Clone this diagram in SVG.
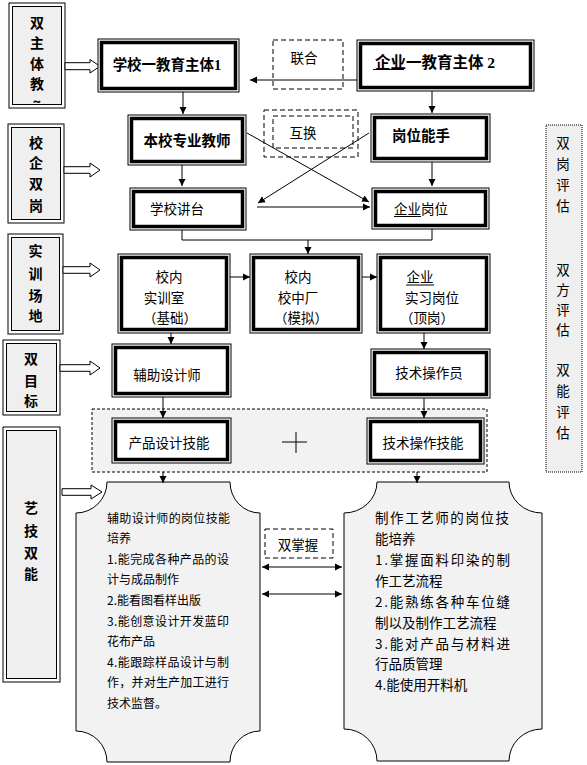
<svg xmlns="http://www.w3.org/2000/svg" width="587" height="765" viewBox="0 0 587 765">
<style>
.bo{fill:#fff;stroke:#000;stroke-width:1}
.bi{fill:none;stroke:#000;stroke-width:3.5}
.lo{fill:#fff;stroke:#000;stroke-width:1}
.li{fill:#efefef;stroke:#000;stroke-width:1}
.t{font-family:"Noto Sans CJK SC",sans-serif;font-size:13.5px;text-anchor:middle;fill:#000}
.tb{font-family:"Liberation Serif","Noto Sans CJK SC",serif;font-weight:bold;text-anchor:middle;fill:#000}
.tl{font-family:"Noto Sans CJK SC",sans-serif;font-weight:bold;font-size:14px;text-anchor:middle;fill:#000}
.tp{font-family:"Noto Sans CJK SC",sans-serif;fill:#000}
.dash{fill:none;stroke:#000;stroke-width:1;stroke-dasharray:5 3}
.c{fill:none;stroke:#000;stroke-width:1}
.ha{fill:#fff;stroke:#000;stroke-width:1}
.ul{stroke:#000;stroke-width:1}
</style>
<defs>
<marker id="ah" markerWidth="8" markerHeight="8" refX="7" refY="4" orient="auto-start-reverse" markerUnits="userSpaceOnUse"><path d="M0,0.5 L7,4 L0,7.5 Z" fill="#000"/></marker>
</defs>

<!-- left label column -->
<g id="lbl1"><rect class="lo" x="9" y="3" width="56" height="105"/><rect class="li" x="12.5" y="6.5" width="49" height="98"/>
<text class="tl" x="37" y="27.5">双</text><text class="tl" x="37" y="47.5">主</text><text class="tl" x="37" y="68.5">体</text><text class="tl" x="37" y="88.5">教</text><text class="tl" x="37" y="107" font-size="11">~</text></g>
<g id="lbl2"><rect class="lo" x="8" y="124" width="56" height="99"/><rect class="li" x="11.5" y="127.5" width="49" height="92"/>
<text class="tl" x="36" y="147.5">校</text><text class="tl" x="36" y="167.5">企</text><text class="tl" x="36" y="188.5">双</text><text class="tl" x="36" y="210.5">岗</text></g>
<g id="lbl3"><rect class="lo" x="8" y="234" width="55" height="100"/><rect class="li" x="11.5" y="237.5" width="48" height="93"/>
<text class="tl" x="35.5" y="255.5">实</text><text class="tl" x="35.5" y="278.5">训</text><text class="tl" x="35.5" y="300.5">场</text><text class="tl" x="35.5" y="320.5">地</text></g>
<g id="lbl4"><rect class="lo" x="3" y="340" width="57" height="75"/><rect class="li" x="6.5" y="343.5" width="50" height="68"/>
<text class="tl" x="31" y="363.5">双</text><text class="tl" x="31" y="385.5">目</text><text class="tl" x="31" y="405.5">标</text></g>
<g id="lbl5"><rect class="lo" x="3" y="427" width="57" height="255"/><rect class="li" x="6.5" y="430.5" width="50" height="248"/>
<text class="tl" x="31" y="512.5">艺</text><text class="tl" x="31" y="535.5">技</text><text class="tl" x="31" y="557.5">双</text><text class="tl" x="31" y="578.5">能</text></g>

<!-- hollow arrows -->
<g id="hollow-arrows">
<polygon class="ha" points="65,62.7 90,62.7 90,59.5 100,66.3 90,73 90,69.7 65,69.7"/>
<polygon class="ha" points="64,166.7 90,166.7 90,163 100,170 90,177 90,173.3 64,173.3"/>
<polygon class="ha" points="63,266.7 90,266.7 90,263 100,270 90,277 90,273.3 63,273.3"/>
<polygon class="ha" points="60,364.7 90,364.7 90,361 100,368 90,375 90,371.3 60,371.3"/>
<polygon class="ha" points="62,488.7 91,488.7 91,485 102,492 91,499 91,495.3 62,495.3"/>
</g>

<!-- gray dashed region -->
<g id="skills-region"><rect x="92" y="409" width="395" height="63" fill="#f2f2f2" stroke="#000" stroke-width="1" stroke-dasharray="3 2"/>
<line class="c" x1="282" y1="442" x2="307" y2="442"/><line class="c" x1="296" y1="432" x2="296" y2="453"/></g>

<!-- right evaluation box -->
<g id="eval"><rect x="546" y="125" width="36" height="347" fill="#efefef" stroke="#000" stroke-width="1" stroke-dasharray="1 1"/>
<text class="t" font-size="14" x="563" y="147.5">双</text><text class="t" x="563" y="168.5" font-size="14">岗</text><text class="t" x="563" y="189.5" font-size="14">评</text><text class="t" x="563" y="210.5" font-size="14">估</text>
<text class="t" x="563" y="274.5" font-size="14">双</text><text class="t" x="563" y="294.5" font-size="14">方</text><text class="t" x="563" y="314.5" font-size="14">评</text><text class="t" x="563" y="334.5" font-size="14">估</text>
<text class="t" x="563" y="375" font-size="14">双</text><text class="t" x="563" y="396" font-size="14">能</text><text class="t" x="563" y="417" font-size="14">评</text><text class="t" x="563" y="438" font-size="14">估</text></g>

<!-- dashed labels -->
<g id="lianhe"><rect class="dash" x="273" y="40" width="70" height="49"/><text class="t" x="304" y="63">联合</text></g>
<g id="huhuan"><rect class="dash" x="264" y="110" width="94" height="47"/><rect class="dash" x="273" y="116" width="80" height="32"/><text class="t" x="303" y="138">互换</text></g>
<g id="shuangzhangwo"><rect class="dash" x="265" y="529" width="68" height="29"/><text class="t" x="298" y="549.5" font-size="14">双掌握</text></g>

<!-- main nodes -->
<g id="school1"><rect class="bo" x="98" y="39" width="141" height="53"/><rect class="bi" x="101.5" y="42.5" width="134" height="46"/>
<text class="tb" x="167" y="69.5" font-size="14.5">学校一教育主体1</text></g>
<g id="ent2"><rect class="bo" x="357" y="40" width="177" height="51"/><rect class="bi" x="360.5" y="43.5" width="170" height="44"/>
<text class="tb" x="435" y="68" font-size="15.5">企业一教育主体 2</text><line class="ul" x1="373" y1="69.5" x2="404" y2="69.5"/></g>
<g id="teacher"><rect class="bo" x="128" y="115" width="118" height="50"/><rect class="bi" x="131.5" y="118.5" width="111" height="43"/>
<text class="tb" x="187" y="145.5" font-size="14.5">本校专业教师</text></g>
<g id="expert"><rect class="bo" x="371" y="114" width="119" height="48"/><rect class="bi" x="374.5" y="117.5" width="112" height="41"/>
<text class="tb" x="421" y="140.5" font-size="14.5">岗位能手</text></g>
<g id="podium"><rect class="bo" x="130" y="188" width="116" height="42"/><rect class="bi" x="133.5" y="191.5" width="109" height="35"/>
<text class="t" x="177" y="214">学校讲台</text></g>
<g id="post"><rect class="bo" x="372" y="188" width="117" height="41"/><rect class="bi" x="375.5" y="191.5" width="110" height="34"/>
<text class="t" x="421" y="214">企业岗位</text><line class="ul" x1="394" y1="216.5" x2="421" y2="216.5"/></g>
<g id="lab"><rect class="bo" x="118" y="254" width="112" height="79"/><rect class="bi" x="121.5" y="257.5" width="105" height="72"/>
<text class="t" x="169" y="282">校内</text><text class="t" x="164" y="302.5">实训室</text><text class="t" x="170" y="323">（基础）</text></g>
<g id="factory"><rect class="bo" x="250" y="254" width="112" height="79"/><rect class="bi" x="253.5" y="257.5" width="105" height="72"/>
<text class="t" x="298" y="282">校内</text><text class="t" x="298" y="302.5">校中厂</text><text class="t" x="301" y="323">（模拟）</text></g>
<g id="intern"><rect class="bo" x="377" y="254" width="113" height="79"/><rect class="bi" x="380.5" y="257.5" width="106" height="72"/>
<text class="t" x="420" y="282">企业</text><line class="ul" x1="406" y1="285" x2="434" y2="285"/><text class="t" x="432" y="302.5">实习岗位</text><text class="t" x="427" y="323">（顶岗）</text></g>
<g id="assist"><rect class="bo" x="112" y="344" width="119" height="53"/><rect class="bi" x="115.5" y="347.5" width="112" height="46"/>
<text class="t" x="167" y="380" font-size="14">辅助设计师</text></g>
<g id="operator"><rect class="bo" x="371" y="349" width="119" height="49"/><rect class="bi" x="374.5" y="352.5" width="112" height="42"/>
<text class="t" x="429" y="377.5" font-size="14">技术操作员</text></g>
<g id="design-skill"><rect class="bo" x="112" y="418" width="119" height="45"/><rect class="bi" x="115.5" y="421.5" width="112" height="38"/>
<text class="t" x="169" y="447.5" font-size="14">产品设计技能</text></g>
<g id="op-skill"><rect class="bo" x="367" y="418" width="117" height="46"/><rect class="bi" x="370.5" y="421.5" width="110" height="39"/>
<text class="t" x="423" y="447.5" font-size="14">技术操作技能</text></g>

<!-- training blobs -->
<g id="blob-left"><path d="M107,482 H230 A30,31 0 0 0 260,513 V731 A30,31 0 0 0 230,762 H107 A31,31 0 0 0 76,731 V513 A31,31 0 0 0 107,482 Z" fill="#f2f2f2" stroke="#000" stroke-width="1"/>
<g class="tp" font-size="12">
<text x="107" y="522.6" textLength="123" lengthAdjust="spacing">辅助设计师的岗位技能</text>
<text x="107" y="543.2">培养</text>
<text x="107" y="563.8" textLength="122" lengthAdjust="spacing">1.能完成各种产品的设</text>
<text x="107" y="584.4">计与成品制作</text>
<text x="107" y="605">2.能看图看样出版</text>
<text x="107" y="625.6" textLength="122" lengthAdjust="spacing">3.能创意设计开发蓝印</text>
<text x="107" y="646.2">花布产品</text>
<text x="107" y="666.8" textLength="122" lengthAdjust="spacing">4.能跟踪样品设计与制</text>
<text x="107" y="687.4" textLength="122" lengthAdjust="spacing">作，并对生产加工进行</text>
<text x="107" y="708">技术监督。</text>
</g></g>
<g id="blob-right"><path d="M377,482 H509 A33,31 0 0 0 542,513 V729 A33,32 0 0 0 509,761 H377 A33,32 0 0 0 344,729 V513 A33,31 0 0 0 377,482 Z" fill="#f2f2f2" stroke="#000" stroke-width="1"/>
<g class="tp" font-size="13.5">
<text x="375" y="523.1" textLength="134" lengthAdjust="spacing">制作工艺师的岗位技</text>
<text x="375" y="544">能培养</text>
<text x="375" y="564.9" textLength="135" lengthAdjust="spacing">1.掌握面料印染的制</text>
<text x="375" y="585.8">作工艺流程</text>
<text x="375" y="606.7" textLength="135" lengthAdjust="spacing">2.能熟练各种车位缝</text>
<text x="375" y="627.6">制以及制作工艺流程</text>
<text x="375" y="648.5" textLength="135" lengthAdjust="spacing">3.能对产品与材料进</text>
<text x="375" y="669.4">行品质管理</text>
<text x="375" y="690.3">4.能使用开料机</text>
</g></g>

<!-- connectors -->
<g id="connectors">
<line class="c" x1="357" y1="80" x2="250" y2="80" marker-end="url(#ah)"/>
<line class="c" x1="183" y1="92" x2="183" y2="114" marker-end="url(#ah)"/>
<line class="c" x1="432" y1="91" x2="432" y2="113" marker-end="url(#ah)"/>
<line class="c" x1="182" y1="165" x2="182" y2="186" marker-end="url(#ah)"/>
<line class="c" x1="432" y1="162" x2="432" y2="186" marker-end="url(#ah)"/>
<line class="c" x1="247" y1="133" x2="369" y2="202" marker-end="url(#ah)"/>
<line class="c" x1="369" y1="133" x2="258" y2="203" marker-end="url(#ah)"/>
<line class="c" x1="257" y1="207" x2="370" y2="207" marker-end="url(#ah)"/>
<polyline class="c" points="182,230 182,240 432,240 432,229"/>
<line class="c" x1="308" y1="240" x2="308" y2="254" marker-end="url(#ah)"/>
<line class="c" x1="230" y1="277" x2="250" y2="277" marker-end="url(#ah)"/>
<line class="c" x1="362" y1="277" x2="377" y2="277" marker-end="url(#ah)"/>
<line class="c" x1="171" y1="333" x2="171" y2="344" marker-end="url(#ah)"/>
<line class="c" x1="424" y1="333" x2="424" y2="349" marker-end="url(#ah)"/>
<line class="c" x1="163" y1="397" x2="163" y2="418" marker-end="url(#ah)"/>
<line class="c" x1="424" y1="398" x2="424" y2="418" marker-end="url(#ah)"/>
<line class="c" x1="163" y1="472" x2="163" y2="483" marker-end="url(#ah)"/>
<line class="c" x1="417" y1="472" x2="417" y2="483" marker-end="url(#ah)"/>
<line class="c" x1="262" y1="567" x2="342" y2="567" marker-start="url(#ah)" marker-end="url(#ah)"/>
<line class="c" x1="262" y1="594" x2="342" y2="594" marker-start="url(#ah)" marker-end="url(#ah)"/>
</g>
</svg>
